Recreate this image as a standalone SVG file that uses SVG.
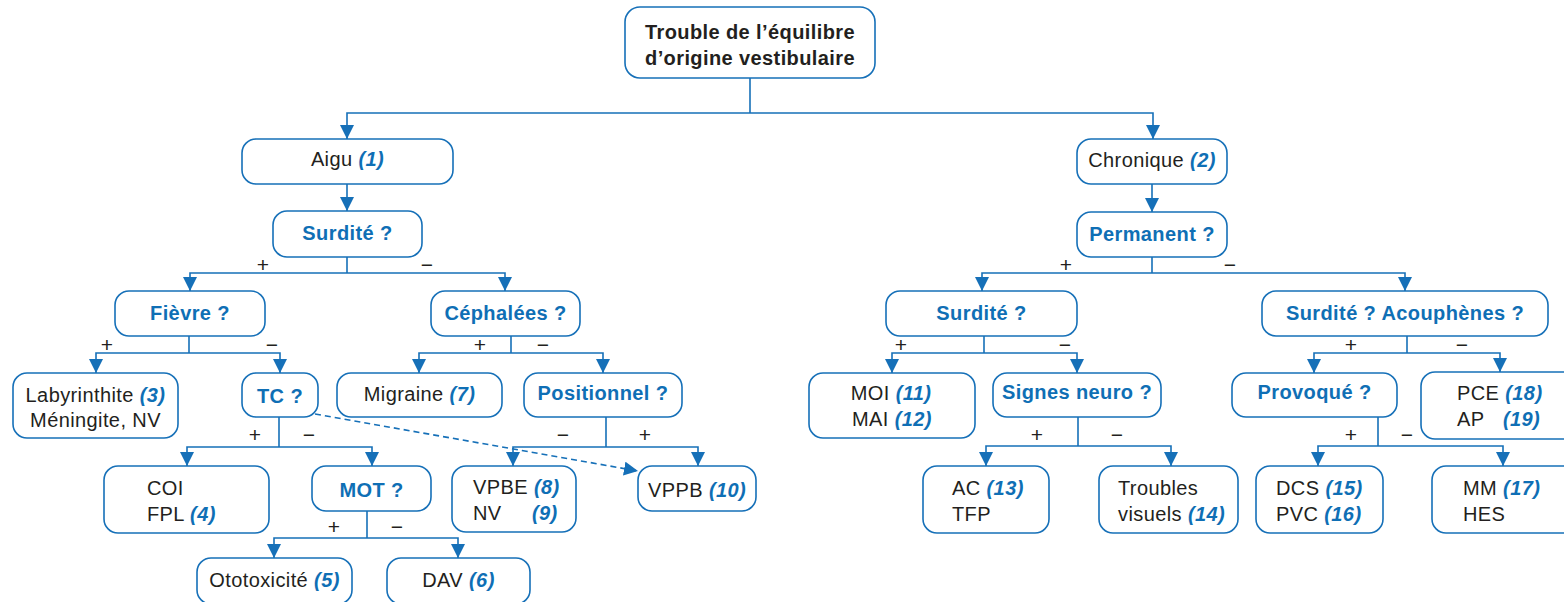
<svg xmlns="http://www.w3.org/2000/svg" width="1564" height="602" viewBox="0 0 1564 602">
<style>
.box{fill:#fff;stroke:#1670b8;stroke-width:1.6}
.t{font-family:"Liberation Sans",Arial,sans-serif;font-size:20px;fill:#231f20;letter-spacing:0.4px}
.c{text-anchor:middle}
.q{font-weight:bold;fill:#0f6fb5}
.h{font-weight:bold;fill:#231f20}
.n{font-weight:bold;font-style:italic;fill:#0f6fb5}
.ln{fill:none;stroke:#1670b8;stroke-width:1.6}
.ar{marker-end:url(#a)}
.ar2{marker-start:url(#a);marker-end:url(#a)}
.s{font-family:"Liberation Sans",Arial,sans-serif;font-size:21px;fill:#231f20;text-anchor:middle}
</style>
<defs>
<marker id="a" markerUnits="userSpaceOnUse" markerWidth="14" markerHeight="14" viewBox="0 0 12 12" refX="12" refY="6" orient="auto-start-reverse">
<path d="M0,0 L12,6 L0,12 z" fill="#1670b8"/>
</marker>
</defs>
<g id="connectors">
<path class="ln" d="M750,78 V113"/>
<path class="ln ar2" d="M347,139 V113 H1153 V139"/>
<path class="ln ar" d="M347,184 V211"/>
<path class="ln ar" d="M1152,184 V212"/>
<path class="ln" d="M347,257 V273"/>
<path class="ln ar2" d="M190,291 V273 H505 V291"/>
<path class="ln" d="M1152,257 V273"/>
<path class="ln ar2" d="M982,291 V273 H1405 V291"/>
<path class="ln" d="M189,336 V353"/>
<path class="ln ar2" d="M96,373 V353 H280 V373"/>
<path class="ln" d="M511,336 V353"/>
<path class="ln ar2" d="M419,373 V353 H603 V373"/>
<path class="ln" d="M984,336 V353"/>
<path class="ln ar2" d="M892,373 V353 H1077 V373"/>
<path class="ln" d="M1407,336 V353"/>
<path class="ln ar2" d="M1314,373 V353 H1500 V372"/>
<path class="ln" d="M279,417 V447"/>
<path class="ln ar2" d="M187,466 V447 H372 V466"/>
<path class="ln" d="M606,417 V447"/>
<path class="ln ar2" d="M513,466 V447 H698 V466"/>
<path class="ln" d="M1078,417 V446"/>
<path class="ln ar2" d="M986,466 V446 H1171 V466"/>
<path class="ln" d="M1378,417 V446"/>
<path class="ln ar2" d="M1318,466 V446 H1503 V466"/>
<path class="ln" d="M367,511 V538"/>
<path class="ln ar2" d="M274,558 V538 H458 V558"/>
<path class="ln ar" stroke-dasharray="6,4" d="M315,414 L638,471"/>
<text class="s" x="263" y="272">+</text><text class="s" x="427" y="272">−</text>
<text class="s" x="1066" y="272">+</text><text class="s" x="1230" y="272">−</text>
<text class="s" x="107" y="352">+</text><text class="s" x="272" y="352">−</text>
<text class="s" x="480" y="352">+</text><text class="s" x="543" y="352">−</text>
<text class="s" x="901" y="352">+</text><text class="s" x="1065" y="352">−</text>
<text class="s" x="1351" y="352">+</text><text class="s" x="1462" y="352">−</text>
<text class="s" x="255" y="442">+</text><text class="s" x="309" y="442">−</text>
<text class="s" x="563" y="442">−</text><text class="s" x="645" y="442">+</text>
<text class="s" x="1037" y="442">+</text><text class="s" x="1117" y="442">−</text>
<text class="s" x="1351" y="442">+</text><text class="s" x="1407" y="442">−</text>
<text class="s" x="334" y="534">+</text><text class="s" x="397" y="534">−</text>
</g>
<g id="root"><rect class="box" x="625" y="7" width="250" height="71" rx="15"/>
<text class="t c h" x="750" y="39">Trouble de l’équilibre</text>
<text class="t c h" x="750" y="65">d’origine vestibulaire</text></g>
<g id="aigu"><rect class="box" x="242" y="139" width="211" height="45" rx="14"/>
<text class="t c" x="347.5" y="166">Aigu <tspan class="n">(1)</tspan></text></g>
<g id="surdite1"><rect class="box" x="273" y="211" width="149" height="46" rx="14"/>
<text class="t c q" x="347.5" y="240">Surdité ?</text></g>
<g id="chronique"><rect class="box" x="1077" y="139" width="150" height="45" rx="14"/>
<text class="t c" x="1152" y="167">Chronique <tspan class="n">(2)</tspan></text></g>
<g id="permanent"><rect class="box" x="1077" y="212" width="150" height="45" rx="14"/>
<text class="t c q" x="1152" y="241">Permanent ?</text></g>
<g id="fievre"><rect class="box" x="115" y="291" width="150" height="45" rx="14"/>
<text class="t c q" x="190" y="320">Fièvre ?</text></g>
<g id="cephalees"><rect class="box" x="431" y="291" width="149" height="45" rx="14"/>
<text class="t c q" x="505.5" y="320">Céphalées ?</text></g>
<g id="surdite2"><rect class="box" x="886" y="291" width="191" height="45" rx="14"/>
<text class="t c q" x="981.5" y="320">Surdité ?</text></g>
<g id="surdite3"><rect class="box" x="1262" y="291" width="286" height="45" rx="14"/>
<text class="t c q" x="1405" y="320">Surdité ? Acouphènes ?</text></g>
<g id="labyrinthite"><rect class="box" x="13" y="373" width="165" height="65" rx="14"/>
<text class="t c" x="95.5" y="402">Labyrinthite <tspan class="n">(3)</tspan></text>
<text class="t c" x="95.5" y="427">Méningite, NV</text></g>
<g id="tc"><rect class="box" x="242" y="373" width="76" height="44" rx="14"/>
<text class="t c q" x="280" y="403">TC ?</text></g>
<g id="migraine"><rect class="box" x="337" y="373" width="165" height="44" rx="14"/>
<text class="t c" x="419.5" y="401">Migraine <tspan class="n">(7)</tspan></text></g>
<g id="positionnel"><rect class="box" x="524" y="373" width="158" height="44" rx="14"/>
<text class="t c q" x="603" y="400">Positionnel ?</text></g>
<g id="moi"><rect class="box" x="809" y="373" width="166" height="65" rx="14"/>
<text class="t c" x="891" y="400">MOI <tspan class="n">(11)</tspan></text>
<text class="t c" x="892" y="426">MAI <tspan class="n">(12)</tspan></text></g>
<g id="signes"><rect class="box" x="993" y="373" width="168" height="44" rx="14"/>
<text class="t c q" x="1077" y="399">Signes neuro ?</text></g>
<g id="provoque"><rect class="box" x="1232" y="373" width="165" height="44" rx="14"/>
<text class="t c q" x="1314.5" y="399">Provoqué ?</text></g>
<g id="pce"><rect class="box" x="1421" y="372" width="160" height="67" rx="14"/>
<text class="t" x="1457" y="400">PCE <tspan class="n">(18)</tspan></text>
<text class="t" x="1457" y="426">AP</text><text class="t n" x="1503" y="426">(19)</text></g>
<g id="coi"><rect class="box" x="104" y="466" width="165" height="67" rx="14"/>
<text class="t" x="147" y="495">COI</text>
<text class="t" x="147" y="521">FPL <tspan class="n">(4)</tspan></text></g>
<g id="mot"><rect class="box" x="312" y="466" width="119" height="45" rx="14"/>
<text class="t c q" x="371.5" y="497">MOT ?</text></g>
<g id="vpbe"><rect class="box" x="452" y="466" width="124" height="66" rx="14"/>
<text class="t" x="473" y="494">VPBE <tspan class="n">(8)</tspan></text>
<text class="t" x="473" y="520">NV</text><text class="t n" x="532" y="520">(9)</text></g>
<g id="vppb"><rect class="box" x="638" y="466" width="118" height="45" rx="14"/>
<text class="t c" x="697" y="497">VPPB <tspan class="n">(10)</tspan></text></g>
<g id="ac"><rect class="box" x="923" y="466" width="126" height="67" rx="14"/>
<text class="t" x="952" y="495">AC <tspan class="n">(13)</tspan></text>
<text class="t" x="952" y="521">TFP</text></g>
<g id="troubles"><rect class="box" x="1099" y="466" width="139" height="67" rx="14"/>
<text class="t" x="1118" y="495">Troubles</text>
<text class="t" x="1118" y="521">visuels <tspan class="n">(14)</tspan></text></g>
<g id="dcs"><rect class="box" x="1256" y="466" width="127" height="67" rx="14"/>
<text class="t" x="1276" y="495">DCS <tspan class="n">(15)</tspan></text>
<text class="t" x="1276" y="521">PVC <tspan class="n">(16)</tspan></text></g>
<g id="mm"><rect class="box" x="1432" y="466" width="150" height="67" rx="14"/>
<text class="t" x="1463" y="495">MM <tspan class="n">(17)</tspan></text>
<text class="t" x="1463" y="521">HES</text></g>
<g id="ototox"><rect class="box" x="197" y="558" width="155" height="46" rx="14"/>
<text class="t c" x="274.5" y="587">Ototoxicité <tspan class="n">(5)</tspan></text></g>
<g id="dav"><rect class="box" x="387" y="558" width="143" height="46" rx="14"/>
<text class="t c" x="458.5" y="587">DAV <tspan class="n">(6)</tspan></text></g>
</svg>
